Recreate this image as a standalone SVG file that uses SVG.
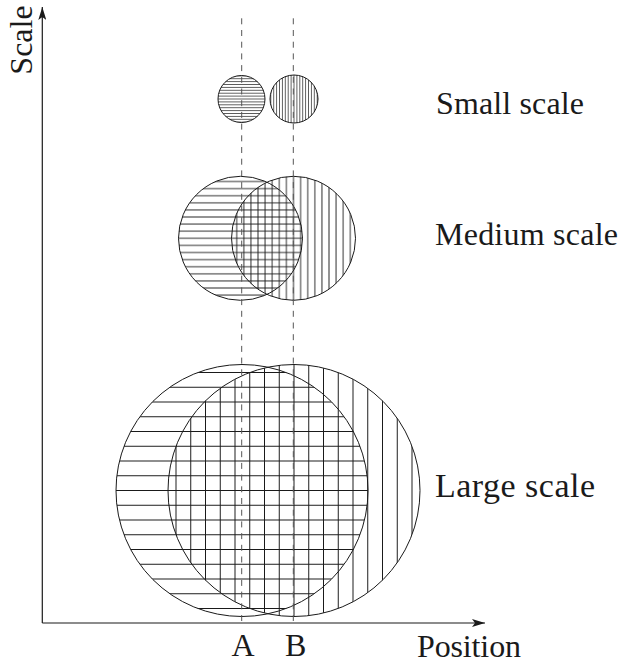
<svg xmlns="http://www.w3.org/2000/svg" width="632" height="663" viewBox="0 0 632 663">
<style>
.lbl{font-family:'Liberation Serif','Times New Roman','DejaVu Serif',serif;font-size:32px;fill:#1a1a1a}
.circ{stroke:#1a1a1a;stroke-width:1}
.h{stroke:#1a1a1a}
.axis{stroke:#1a1a1a;stroke-width:1.2;fill:none}
.dash{stroke:#555;stroke-width:1;stroke-dasharray:6 5.7;fill:none}
</style>
<defs>
<pattern id="hS" patternUnits="userSpaceOnUse" x="0" y="97.55" width="10" height="2.9"><line class="h" x1="0" y1="1.45" x2="10" y2="1.45" stroke-width="0.7"/></pattern>
<pattern id="vS" patternUnits="userSpaceOnUse" x="292.55" y="0" width="2.9" height="10"><line class="h" x1="1.45" y1="0" x2="1.45" y2="10" stroke-width="0.7"/></pattern>
<pattern id="hM" patternUnits="userSpaceOnUse" x="0" y="234.75" width="10" height="7.1"><line class="h" x1="0" y1="3.55" x2="10" y2="3.55" stroke-width="0.9"/></pattern>
<pattern id="vM" patternUnits="userSpaceOnUse" x="289.95" y="0" width="7.1" height="10"><line class="h" x1="3.55" y1="0" x2="3.55" y2="10" stroke-width="0.9"/></pattern>
<pattern id="hL" patternUnits="userSpaceOnUse" x="0" y="483.125" width="10" height="14.75"><line class="h" x1="0" y1="7.375" x2="10" y2="7.375" stroke-width="1"/></pattern>
<pattern id="vL" patternUnits="userSpaceOnUse" x="286.625" y="0" width="14.75" height="10"><line class="h" x1="7.375" y1="0" x2="7.375" y2="10" stroke-width="1"/></pattern>
<marker id="arr" viewBox="0 0 13 8" refX="13" refY="4" markerWidth="13" markerHeight="8" markerUnits="userSpaceOnUse" orient="auto"><path d="M0,0 L13,4 L0,8 L3,4 Z" fill="#1a1a1a"/></marker>
</defs>
<g id="connectors">
<line class="axis" x1="42.3" y1="623" x2="42.3" y2="7" marker-end="url(#arr)"/>
<line class="axis" x1="42.3" y1="623" x2="485" y2="623" marker-end="url(#arr)"/>
</g>
<g id="small-A"><circle class="circ" cx="241.5" cy="99" r="23.5" fill="url(#hS)"/></g>
<g id="small-B"><circle class="circ" cx="294" cy="99" r="24" fill="url(#vS)"/></g>
<g id="medium-A"><circle class="circ" cx="240.5" cy="238.3" r="62" fill="url(#hM)"/></g>
<g id="medium-B"><circle class="circ" cx="293.5" cy="238.3" r="62" fill="url(#vM)"/></g>
<g id="large-A"><circle class="circ" cx="242" cy="490.5" r="126" fill="url(#hL)"/></g>
<g id="large-B"><circle class="circ" cx="294" cy="490.5" r="126" fill="url(#vL)"/></g>
<g id="guides">
<line class="dash" x1="241.7" y1="18.3" x2="241.7" y2="623"/>
<line class="dash" x1="293.3" y1="18.3" x2="293.3" y2="623"/>
</g>
<g id="labels">
<text class="lbl" x="436" y="114" textLength="148">Small scale</text>
<text class="lbl" x="435" y="245" textLength="183">Medium scale</text>
<text class="lbl" x="435" y="497" style="font-size:34px" textLength="160">Large scale</text>
<text class="lbl" x="417" y="657" textLength="104">Position</text>
<text class="lbl" x="243" y="656" text-anchor="middle">A</text>
<text class="lbl" x="295.6" y="656" text-anchor="middle">B</text>
<text class="lbl" transform="translate(32,40) rotate(-90)" text-anchor="middle">Scale</text>
</g>
</svg>
